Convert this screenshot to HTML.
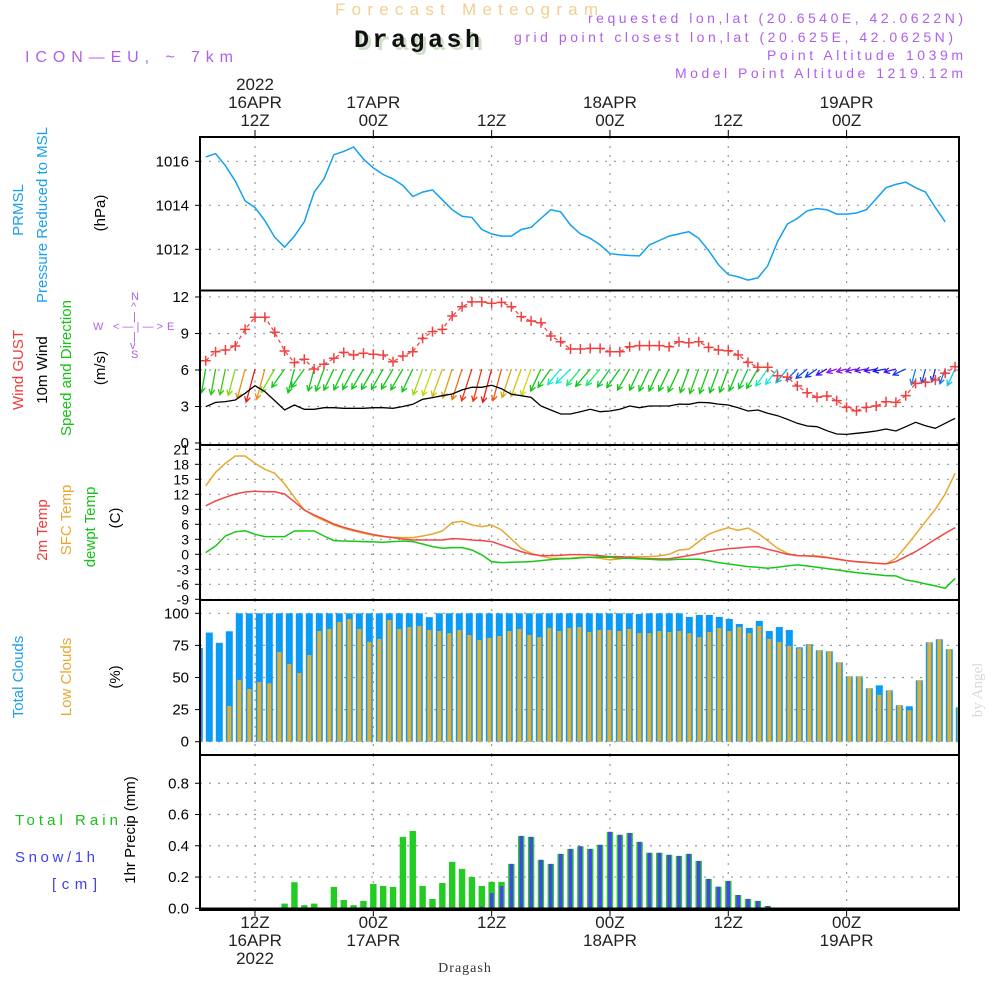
<!DOCTYPE html>
<html><head><meta charset="utf-8"><title>Meteogram Dragash</title>
<style>
html,body{margin:0;padding:0;background:#fff;}
svg{display:block;font-family:"Liberation Sans",sans-serif;}
</style></head>
<body>
<svg id="chart" width="1000" height="1000" viewBox="0 0 1000 1000" xmlns="http://www.w3.org/2000/svg">
<rect x="0" y="0" width="1000" height="1000" fill="#fff"/>
<text x="335" y="15" font-size="17" fill="#f2cf90" textLength="263">Forecast Meteogram</text>
<text x="357" y="50" font-size="25" font-weight="bold" font-family="Liberation Mono, monospace" fill="#cfe0c8" textLength="126">Dragash</text>
<text x="354" y="47" font-size="25" font-weight="bold" font-family="Liberation Mono, monospace" fill="#111" textLength="126">Dragash</text>
<text x="25" y="62" font-size="16" fill="#b060e8" textLength="208">ICON—EU, ~ 7km</text>
<g fill="#b060e8" font-size="14" text-anchor="end">
<text x="963" y="23" textLength="375">requested lon,lat (20.6540E, 42.0622N)</text>
<text x="953" y="42" textLength="439">grid point closest lon,lat (20.625E, 42.0625N)</text>
<text x="963" y="60" textLength="196">Point Altitude 1039m</text>
<text x="963" y="78" textLength="288">Model Point Altitude 1219.12m</text>
</g>
<g font-size="15" text-anchor="middle">
<text transform="translate(23,210) rotate(-90)" fill="#1aa0f0">PRMSL</text>
<text transform="translate(47,215) rotate(-90)" fill="#1aa0f0">Pressure Reduced to MSL</text>
<text transform="translate(105,213) rotate(-90)" fill="#000">(hPa)</text>
<text transform="translate(23,370) rotate(-90)" fill="#f03c3c">Wind GUST</text>
<text transform="translate(47,370) rotate(-90)" fill="#000">10m Wind</text>
<text transform="translate(71,368) rotate(-90)" fill="#18c018">Speed and Direction</text>
<text transform="translate(105,368) rotate(-90)" fill="#000">(m/s)</text>
<text transform="translate(47,530) rotate(-90)" fill="#f03c3c">2m Temp</text>
<text transform="translate(71,520) rotate(-90)" fill="#e8a830">SFC Temp</text>
<text transform="translate(95,527) rotate(-90)" fill="#18c018">dewpt Temp</text>
<text transform="translate(120,518) rotate(-90)" fill="#000">(C)</text>
<text transform="translate(23,677) rotate(-90)" fill="#1aa0f0">Total Clouds</text>
<text transform="translate(71,677) rotate(-90)" fill="#e8a830">Low Clouds</text>
<text transform="translate(120,677) rotate(-90)" fill="#000">(%)</text>
<text transform="translate(135,830) rotate(-90)" fill="#000">1hr Precip (mm)</text>
<text transform="translate(982,690) rotate(-90)" fill="#d8d8d8" font-family="Liberation Serif, serif">by Angel</text>
</g>
<g font-size="15">
<text x="15" y="825" fill="#18c018" textLength="103">Total  Rain</text>
<text x="15" y="862" fill="#4040f0" textLength="80">Snow/1h</text>
<text x="52" y="889" fill="#4040f0" textLength="45">[cm]</text>
</g>
<g fill="#b060e8" font-size="11">
<text x="131" y="300">N</text><text x="131" y="310">^</text><text x="133" y="320">|</text>
<text x="93" y="330">W</text><text x="113" y="330">&lt; — | — &gt;</text><text x="167" y="330">E</text>
<text x="133" y="340">|</text><text x="130" y="349">v</text><text x="131" y="358">S</text>
</g>
<g id="plot"></g>
<text x="465" y="972" font-size="14" font-family="Liberation Serif, serif" fill="#333" text-anchor="middle" letter-spacing="1">Dragash</text>
</svg>
<script>
const pressT0 = 7;
const pressure = [1016.2,1016.35,1015.8,1015.1,1014.2,1013.9,1013.3,1012.55,1012.1,1012.6,1013.25,1014.6,1015.2,1016.3,1016.45,1016.65,1016.1,1015.7,1015.4,1015.2,1014.9,1014.4,1014.6,1014.7,1014.25,1013.8,1013.5,1013.45,1012.9,1012.7,1012.6,1012.6,1012.9,1013.0,1013.4,1013.8,1013.7,1013.1,1012.7,1012.5,1012.2,1011.8,1011.75,1011.72,1011.7,1012.2,1012.4,1012.6,1012.7,1012.8,1012.5,1011.95,1011.3,1010.85,1010.75,1010.6,1010.7,1011.25,1012.35,1013.15,1013.4,1013.75,1013.85,1013.8,1013.6,1013.6,1013.65,1013.8,1014.3,1014.8,1014.95,1015.05,1014.8,1014.6,1013.9,1013.25];
const seriesT0 = 7;
const gust = [6.76,7.5,7.64,7.97,9.34,10.33,10.33,9.1,7.56,6.6,6.88,6.08,6.47,6.96,7.45,7.23,7.37,7.29,7.23,6.68,7.15,7.5,8.6,9.15,9.34,10.44,11.2,11.6,11.6,11.48,11.56,11.2,10.38,10.02,9.88,8.79,8.32,7.72,7.72,7.78,7.78,7.5,7.5,7.91,8.0,8.0,8.0,7.91,8.32,8.24,8.32,7.86,7.64,7.58,7.23,6.63,6.22,6.22,5.53,5.4,4.68,4.13,3.76,3.86,3.48,2.93,2.65,2.93,3.04,3.39,3.34,3.89,4.9,4.99,5.18,5.73,6.27];
const wind10m = [2.98,3.34,3.4,3.53,4.08,4.71,4.22,3.48,2.71,3.12,2.77,2.77,2.9,2.9,2.85,2.85,2.85,2.9,2.9,2.85,3.0,3.18,3.59,3.73,3.89,4.03,4.36,4.58,4.58,4.74,4.46,4.0,3.89,3.75,3.04,2.71,2.38,2.38,2.57,2.77,2.57,2.63,2.77,3.04,2.9,3.04,3.04,3.04,3.2,3.18,3.34,3.31,3.2,3.12,2.9,2.63,2.71,2.44,2.24,1.95,1.62,1.4,1.34,1.01,0.74,0.71,0.8,0.88,0.99,1.15,0.99,1.34,1.7,1.42,1.21,1.62,2.03];
const windDir = [10,10,12,15,15,15,15,30,35,15,35,15,20,25,25,28,30,30,30,30,30,25,20,20,20,18,18,18,15,15,15,18,20,20,25,35,40,45,40,40,40,35,35,30,25,25,25,25,25,20,20,20,20,20,22,25,30,35,38,40,45,50,55,60,70,75,78,80,80,80,75,65,15,15,15,20,25];
const temp2m = [9.7,10.66,11.4,12.06,12.46,12.6,12.5,12.5,12.06,10.5,8.86,7.86,7.0,6.06,5.4,4.86,4.4,3.93,3.6,3.33,3.06,2.86,2.86,2.86,2.86,3.13,3.06,2.86,2.73,2.53,1.86,1.2,0.53,0,-0.27,-0.27,-0.2,-0.07,-0.07,-0.13,-0.3,-0.47,-0.47,-0.6,-0.8,-0.87,-0.93,-0.9,-0.6,-0.27,0.07,0.53,0.86,1.13,1.26,1.46,1.53,1.0,0.53,0,-0.27,-0.33,-0.47,-0.67,-0.93,-1.27,-1.47,-1.6,-1.8,-1.93,-1.47,-0.47,0.53,1.73,3.0,4.2,5.33];
const tempSfc = [13.66,16.4,18.2,19.66,19.66,18.2,17.0,16.2,14.06,11.4,8.86,7.66,6.73,5.86,5.2,4.66,4.2,3.8,3.53,3.4,3.33,3.33,3.66,4.06,4.66,6.33,6.6,5.86,5.53,5.86,4.86,3.06,1.2,0.2,-0.33,-0.8,-0.8,-0.8,-0.6,-0.6,-0.8,-1.13,-0.93,-0.47,-0.47,-0.47,-0.33,0,0.86,1.0,2.53,4.0,4.73,5.33,4.8,5.26,4.2,2.73,1.2,0.2,-0.27,-0.33,-0.33,-0.6,-1.0,-1.27,-1.53,-1.66,-1.8,-1.93,-0.8,1.53,4.0,6.53,9.0,12.06,16.2];
const dewpt = [0.33,1.66,3.66,4.5,4.7,4.0,3.53,3.53,3.53,4.66,4.66,4.66,3.66,2.73,2.66,2.6,2.53,2.47,2.4,2.53,2.66,2.53,2.06,1.53,1.2,1.33,1.33,0.86,-0.13,-1.47,-1.66,-1.6,-1.55,-1.47,-1.27,-1.06,-0.93,-0.87,-0.73,-0.6,-0.6,-0.6,-0.8,-0.8,-0.93,-1.0,-1.13,-1.13,-1.0,-1.0,-1.0,-1.27,-1.66,-1.93,-2.2,-2.47,-2.6,-2.8,-2.6,-2.33,-2.13,-2.33,-2.6,-2.87,-3.13,-3.4,-3.66,-3.87,-4.06,-4.26,-4.33,-5.13,-5.46,-5.93,-6.33,-6.8,-4.8];
const totalClouds = [73,85,77,86,100,100,100,100,100,100,100,100,100,100,100,100,100,100,100,100,100,100,100,97,100,100,100,100,100,100,100,100,100,100,100,100,100,100,100,100,100,100,100,100,99.5,100,100,100,100,97.2,98.7,98.7,97.2,95.6,91.7,88.6,94.1,86.2,89.3,87,73.5,75.9,71.2,70.4,61.8,50.9,50.9,41.6,43.9,40,28.4,27.6,47.8,77.4,79.8,72,26.8];
const lowClouds = [0,0,0,27.8,48,41,46.5,45.5,69.9,60.5,53.5,67.5,86.2,87.8,93.2,95.5,87.8,77.7,80,94.8,87.8,89.3,90.1,87,86.2,84.6,87,83.1,79.2,80.8,82.3,86.2,87.8,83.1,81.5,88.5,86.2,88.5,89.3,85.4,87,87,86.2,87.8,84.6,84.6,86.2,85.4,86.2,84.6,81.5,85.4,88.5,86.2,89.3,84.6,90.1,80,77.7,74.6,72.7,75.9,71.2,70.4,61.8,50.9,50.9,41.6,36.5,40,28.4,24.5,47.8,77.4,79.8,72,26.8];
const precipT0 = 15;
const totalPrecip = [0.03,0.167,0.02,0.03,0,0.137,0.053,0.02,0.047,0.156,0.143,0.137,0.457,0.495,0.143,0.06,0.162,0.297,0.252,0.2,0.143,0.169,0.169,0.284,0.463,0.457,0.31,0.284,0.348,0.38,0.397,0.38,0.406,0.489,0.47,0.482,0.425,0.355,0.355,0.342,0.335,0.348,0.303,0.188,0.138,0.175,0.085,0.06,0.047,0.015,0.005];
const snowPrecip = [0,0,0,0,0,0,0,0,0,0,0,0,0,0,0,0,0,0,0,0,0.01,0.098,0.143,0.284,0.463,0.457,0.31,0.284,0.348,0.38,0.397,0.38,0.406,0.489,0.47,0.482,0.425,0.355,0.355,0.342,0.335,0.348,0.303,0.188,0.138,0.175,0.085,0.06,0.047,0.015,0.005];
const pressTicks = [1012,1014,1016];
const windTicks = [0,3,6,9,12];
const tempTicks = [21,18,15,12,9,6,3,0,-3,-6,-9];
const cloudTicks = [0,25,50,75,100];
const precipTicks = [0,0.2,0.4,0.6,0.8];
const timeTicks = [12,24,36,48,60,72];
const topLabels = [["2022","16APR","12Z"],["","17APR","00Z"],["","","12Z"],["","18APR","00Z"],["","","12Z"],["","19APR","00Z"]];
const bottomLabels = [["12Z","16APR","2022"],["00Z","17APR",""],["12Z","",""],["00Z","18APR",""],["12Z","",""],["00Z","19APR",""]];

const X0 = 200, X1 = 959;
const xT = t => 255 + (t - 12) * 9.86;
const xBar = i => 199.3 + 10 * i;
const yP = v => 205.3 - (v - 1014) * 22;
const yW = v => 443 - v * 12.17;
const yTmp = v => 554.3 - v * 5;
const yC = v => 741.7 - v * 1.284;
const yR = v => 908.3 - v * 156.3;
const panels = [[137,290.5],[290.5,445],[445,600],[600,755],[755,910]];

const NS = "http://www.w3.org/2000/svg";
const plot = document.getElementById("plot");
function mk(tag, attrs, parent) {
  const e = document.createElementNS(NS, tag);
  for (const k in attrs) e.setAttribute(k, attrs[k]);
  (parent || plot).appendChild(e);
  return e;
}
const defs = mk("defs", {});
panels.forEach((p, i) => {
  const cp = mk("clipPath", {id: "clip" + i}, defs);
  mk("rect", {x: X0, y: p[0], width: X1 - X0, height: p[1] - p[0]}, cp);
});

const grid = mk("g", {stroke: "#999", "stroke-width": 1.2, "stroke-dasharray": "2,7", fill: "none"});


panels.forEach(p => timeTicks.forEach(t => mk("line", {x1: xT(t), x2: xT(t), y1: p[0], y2: p[1]}, grid)));
function hgrid(ticks, fy) { ticks.forEach(v => mk("line", {x1: X0, x2: X1, y1: fy(v), y2: fy(v)}, grid)); }
hgrid(pressTicks, yP); hgrid(windTicks, yW); hgrid(tempTicks, yTmp); hgrid(cloudTicks, yC); hgrid(precipTicks, yR);

const tl = mk("g", {"font-size": 15, fill: "#000", "text-anchor": "end"});


function ylab(ticks, fy, fmt, size) {
  ticks.forEach(v => {
    const t = mk("text", {x: 189, y: fy(v) + 5, "font-size": size || 15}, tl);
    t.textContent = fmt ? fmt(v) : String(v);
    mk("line", {x1: 195, x2: 200, y1: fy(v), y2: fy(v), stroke: "#000"}, tl);
  });
}
ylab(pressTicks, yP); ylab(windTicks, yW); ylab(tempTicks, yTmp, null, 14); ylab(cloudTicks, yC); ylab(precipTicks, yR, v => v.toFixed(1));

const xl = mk("g", {"font-size": 17, fill: "#222", "text-anchor": "middle"});


timeTicks.forEach((t, k) => {
  topLabels[k].forEach((s, j) => { if (s) { const e = mk("text", {x: xT(t), y: 90 + j * 18}, xl); e.textContent = s; } });
  bottomLabels[k].forEach((s, j) => { if (s) { const e = mk("text", {x: xT(t), y: 928 + j * 18}, xl); e.textContent = s; } });
  mk("line", {x1: xT(t), x2: xT(t), y1: 130, y2: 137, stroke: "#000"}, xl);
  mk("line", {x1: xT(t), x2: xT(t), y1: 910, y2: 916, stroke: "#000"}, xl);
});

function pathFrom(arr, t0, fy) { return arr.map((v, i) => (i ? "L" : "M") + xT(t0 + i).toFixed(1) + "," + fy(v).toFixed(1)).join(""); }

const pl = mk("path", {d: pathFrom(pressure, pressT0, yP), stroke: "#12a0f0", "stroke-width": 1.5, fill: "none", "clip-path": "url(#clip0)"});



function windColor(s) {
  const st = [[0.7,275],[1.2,235],[1.8,205],[2.4,172],[2.7,125],[3.3,118],[3.55,82],[3.9,50],[4.3,30],[4.75,0]];
  let h = st[0][1];
  if (s >= st[st.length-1][0]) h = 0;
  for (let i = 0; i < st.length - 1; i++) if (s >= st[i][0] && s < st[i+1][0]) h = st[i][1] + (st[i+1][1]-st[i][1]) * (s - st[i][0]) / (st[i+1][0]-st[i][0]);
  const l = (h > 100 && h < 140) ? "42%" : (h > 40 && h <= 100 ? "46%" : "50%");
  return "hsl(" + h.toFixed(0) + ",85%," + l + ")";
}
const arrows = mk("g", {"stroke-width": 1.3, fill: "none", "clip-path": "url(#clip1)"});


wind10m.forEach((s, i) => {
  const a = windDir[i] * Math.PI / 180, L = 6 + 6 * s;
  const x1 = xT(seriesT0 + i), y1 = 369;
  const x2 = x1 - Math.sin(a) * L, y2 = y1 + Math.cos(a) * L;
  const ang = Math.atan2(y2 - y1, x2 - x1), h = 6;
  const c = windColor(s);
  const g = mk("path", {d: `M${x1},${y1}L${x2},${y2}M${x2 - h*Math.cos(ang-0.5)},${y2 - h*Math.sin(ang-0.5)}L${x2},${y2}L${x2 - h*Math.cos(ang+0.5)},${y2 - h*Math.sin(ang+0.5)}`, stroke: c}, arrows);
  
  
});
const wl = mk("path", {d: pathFrom(wind10m, seriesT0, yW), stroke: "#000", "stroke-width": 1.3, fill: "none", "clip-path": "url(#clip1)"});


const gl = mk("path", {d: pathFrom(gust, seriesT0, yW), stroke: "#f04040", "stroke-width": 1.2, "stroke-dasharray": "4,3", fill: "none", "clip-path": "url(#clip1)"});


const gm = mk("g", {stroke: "#f04040", "stroke-width": 1.5, "clip-path": "url(#clip1)"});


gust.forEach((v, i) => { const x = xT(seriesT0 + i), y = yW(v); mk("path", {d: `M${x-5},${y}h10M${x},${y-5}v10`}, gm); });

[[tempSfc, "#e8a830", "sfc-temp-line"], [temp2m, "#f04848", "temp2m-line"], [dewpt, "#18c818", "dewpt-line"]].forEach(s => {
  const p = mk("path", {d: pathFrom(s[0], seriesT0, yTmp), stroke: s[1], "stroke-width": 1.5, fill: "none", "clip-path": "url(#clip2)"});
  
  
});

const cg = mk("g", {"clip-path": "url(#clip3)"});


totalClouds.forEach((v, i) => {
  const b = mk("rect", {x: xBar(i) - 3.5, y: yC(v), width: 7, height: yC(0) - yC(v), fill: "#0a9cf5"}, cg);
  
  
  const lv = lowClouds[i];
  if (lv > 0) {
    const o = mk("rect", {x: xBar(i) - 2, y: yC(lv), width: 4, height: yC(0) - yC(lv), fill: "#e8ad2a"}, cg);
    
    
  }
});

const rg = mk("g", {"clip-path": "url(#clip4)"});


totalPrecip.forEach((v, i) => {
  const x = xT(precipT0 + i);
  if (v > 0) {
    const b = mk("rect", {x: x - 3.2, y: yR(v), width: 6.4, height: yR(0) - yR(v), fill: "#22cc22"}, rg);
    
    
  }
  const sv = snowPrecip[i];
  if (sv > 0) {
    const s = mk("rect", {x: x - 1.8, y: yR(sv), width: 3.6, height: yR(0) - yR(sv), fill: "#4444f0"}, rg);
    
    
  }
});
mk("line", {x1: X0, x2: X1, y1: yR(0), y2: yR(0), stroke: "#000", "stroke-width": 1.5});

const fr = mk("g", {stroke: "#000", "stroke-width": 2, fill: "none"});


panels.forEach(p => mk("rect", {x: X0, y: p[0], width: X1 - X0, height: p[1] - p[0]}, fr));
</script>
</body></html>
